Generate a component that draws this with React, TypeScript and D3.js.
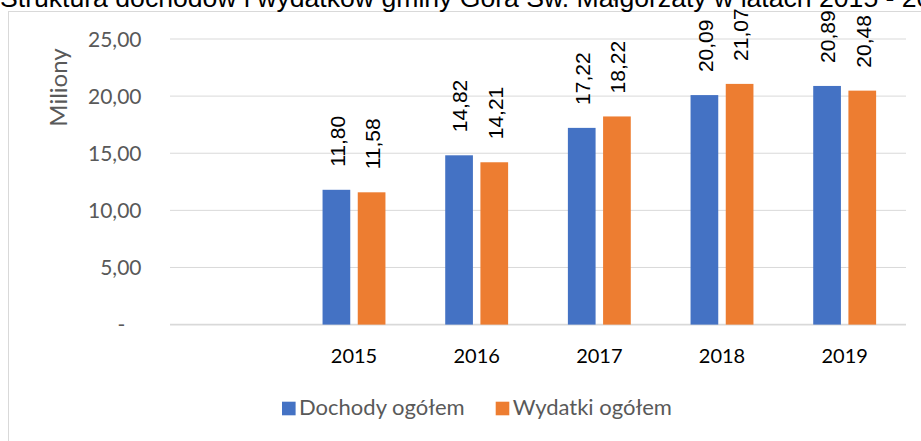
import React from "react";
import * as d3 from "d3";

const TITLE = "Struktura dochodów i wydatków gminy Góra Św. Małgorzaty w latach 2015 - 2019";
const years = ["2015", "2016", "2017", "2018", "2019"];
const slots = ["", ...years];
const seriesNames = ["Dochody ogółem", "Wydatki ogółem"];
const dochody = [11.8, 14.82, 17.22, 20.09, 20.89];
const wydatki = [11.58, 14.21, 18.22, 21.07, 20.48];
const yTicks = [0, 5, 10, 15, 20, 25];
const colors = ["#4472C4", "#ED7D31"];

const W = 921;
const H = 441;
const plot = { left: 170, right: 906, top: 39, bottom: 324.6 };

const CAL = "Lato, 'Open Sans', sans-serif";
const ARIAL = "'Liberation Sans', Arial, sans-serif";

const fmt = (v: number) => (v === 0 ? "-   " : d3.format(".2f")(v).replace(".", ","));

export default function App() {
  const x = d3.scaleBand<string>().domain(slots).range([plot.left, plot.right]).padding(0);
  const xs = d3
    .scaleBand<string>()
    .domain(seriesNames)
    .range([0, x.bandwidth()])
    .paddingInner(0.213)
    .paddingOuter(0.849);
  const y = d3.scaleLinear().domain([0, 25]).range([plot.bottom, plot.top]);
  const series = [dochody, wydatki];

  return (
    <div style={{ position: "fixed", left: 0, top: 0, width: W, height: H, background: "#fff" }}>
      <svg width={W} height={H} style={{ display: "block" }}>
        <rect x={0} y={0} width={W} height={H} fill="#fff" />
        {/* chart area border */}
        <rect x={8.5} y={11.5} width={1200} height={1200} fill="none" stroke="#d9d9d9" strokeWidth={1} />
        {/* title (cut off at top in the reference) */}
        <text
          x={0}
          y={6.5}
          fontFamily={ARIAL}
          fontSize={26}
          fill="#000"
          textLength={961}
          lengthAdjust="spacingAndGlyphs"
        >
          {TITLE}
        </text>
        {/* gridlines */}
        {yTicks.map((t) => (
          <line
            key={t}
            x1={plot.left}
            x2={plot.right}
            y1={y(t)}
            y2={y(t)}
            stroke="#d9d9d9"
            strokeWidth={t === 0 ? 1.6 : 1}
          />
        ))}
        {/* y tick labels */}
        {yTicks.map((t) => (
          <text
            key={"l" + t}
            x={141.5}
            y={y(t)}
            dy="0.36em"
            textAnchor="end"
            fontFamily={CAL}
            fontSize={21}
            fill="#595959"
            style={{ whiteSpace: "pre" }}
          >
            {fmt(t)}
          </text>
        ))}
        {/* y axis title */}
        <text
          transform={`translate(59, 87.5) rotate(-90)`}
          dy="0.35em"
          textAnchor="middle"
          fontFamily={CAL}
          fontSize={24}
          fill="#595959"
        >
          Miliony
        </text>
        {/* bars */}
        {series.map((vals, si) =>
          years.map((yr, i) => {
            const bx = (x(yr) as number) + (xs(seriesNames[si]) as number);
            return (
              <rect
                key={yr + si}
                x={bx}
                y={y(vals[i])}
                width={xs.bandwidth()}
                height={y(0) - y(vals[i])}
                fill={colors[si]}
              />
            );
          })
        )}
        {/* data labels */}
        {series.map((vals, si) =>
          years.map((yr, i) => {
            const cx = (x(yr) as number) + (xs(seriesNames[si]) as number) + xs.bandwidth() / 2;
            return (
              <text
                key={"d" + yr + si}
                transform={`translate(${cx + 1}, ${y(vals[i]) - 23}) rotate(-90)`}
                dy="0.35em"
                fontFamily={ARIAL}
                fontSize={21}
                fill="#000"
              >
                {fmt(vals[i])}
              </text>
            );
          })
        )}
        {/* x labels */}
        {years.map((yr) => (
          <text
            key={"x" + yr}
            x={(x(yr) as number) + x.bandwidth() / 2}
            y={363}
            textAnchor="middle"
            fontFamily={CAL}
            fontSize={20}
            fill="#000"
          >
            {yr}
          </text>
        ))}
        {/* legend */}
        {seriesNames.map((s, i) => {
          const sx = [282, 495.7][i];
          return (
            <g key={"lg" + s}>
              <rect x={sx} y={401.7} width={13.6} height={13.6} fill={colors[i]} />
              <text x={sx + 17} y={414.5} fontFamily={CAL} fontSize={22} fill="#595959">
                {s}
              </text>
            </g>
          );
        })}
      </svg>
    </div>
  );
}
